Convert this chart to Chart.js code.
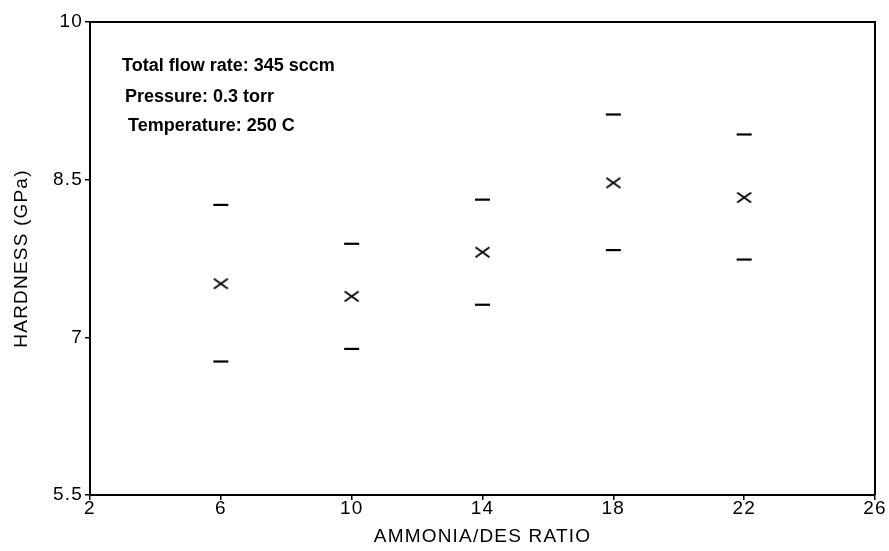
<!DOCTYPE html>
<html><head><meta charset="utf-8">
<script src="https://cdn.jsdelivr.net/npm/chart.js@4/dist/chart.umd.min.js"></script>
<style>html,body{margin:0;padding:0;background:#fff}</style>
</head><body>
<canvas id="c" width="889" height="551" style="display:block;width:889px;height:551px"></canvas>
<script>
const ratios = [6, 10, 14, 18, 22];
const hardnessMean = [7.51, 7.39, 7.81, 8.47, 8.33];
const hardnessUpper = [8.26, 7.89, 8.31, 9.12, 8.93];
const hardnessLower = [6.77, 6.89, 7.31, 7.83, 7.74];
const xTicks = [2, 6, 10, 14, 18, 22, 26];
const yTicks = [5.5, 7, 8.5, 10];
const notes = ['Total flow rate: 345 sccm', 'Pressure: 0.3 torr', 'Temperature: 250 C'];
const xTitle = 'AMMONIA/DES RATIO';
const yTitle = 'HARDNESS (GPa)';

const FONT = '"Liberation Sans", Arial, Helvetica, sans-serif';

function makeCross() {
  const c = document.createElement('canvas');
  c.width = 17; c.height = 13;
  const g = c.getContext('2d');
  g.strokeStyle = '#000'; g.lineWidth = 1.8;
  g.beginPath();
  g.moveTo(1.5, 1.5); g.lineTo(15.5, 11.5);
  g.moveTo(1.5, 11.5); g.lineTo(15.5, 1.5);
  g.stroke();
  return c;
}
const cross = makeCross();

const toPts = (ys) => ratios.map((x, i) => ({x: x, y: ys[i]}));

const framePlugin = {
  id: 'frame',
  beforeDraw(chart) { chart.ctx.letterSpacing = '1.2px'; },
  afterDraw(chart) {
    const ctx = chart.ctx, a = chart.chartArea;
    ctx.save();
    ctx.letterSpacing = '0px';
    ctx.strokeStyle = '#000'; ctx.lineWidth = 2;
    ctx.beginPath();
    ctx.moveTo(a.left, a.top); ctx.lineTo(a.right, a.top); ctx.lineTo(a.right, a.bottom);
    ctx.stroke();
    ctx.font = 'bold 18px ' + FONT;
    ctx.fillStyle = '#000';
    ctx.textBaseline = 'alphabetic';
    const dx = [32, 35, 38], dy = [49, 79.5, 109];
    notes.forEach((t, i) => ctx.fillText(t, a.left + dx[i], a.top + dy[i]));
    ctx.restore();
  }
};

new Chart(document.getElementById('c'), {
  type: 'scatter',
  data: {
    datasets: [
      { data: toPts(hardnessMean), pointStyle: cross, pointRadius: 8, borderColor: '#000', backgroundColor: '#000' },
      { data: toPts(hardnessUpper), pointStyle: 'line', pointRadius: 7.5, pointBorderWidth: 2.2, borderColor: '#000', backgroundColor: '#000' },
      { data: toPts(hardnessLower), pointStyle: 'line', pointRadius: 7.5, pointBorderWidth: 2.2, borderColor: '#000', backgroundColor: '#000' }
    ]
  },
  options: {
    responsive: false,
    animation: false,
    events: [],
    layout: { padding: { left: 0, right: 14, top: 22, bottom: 0 } },
    plugins: { legend: { display: false }, tooltip: { enabled: false } },
    scales: {
      x: {
        type: 'linear', min: xTicks[0], max: xTicks[xTicks.length - 1],
        afterBuildTicks: (s) => { s.ticks = xTicks.map(v => ({value: v})); },
        afterFit: (s) => { s.height = 56; },
        grid: { display: true, drawOnChartArea: false, drawTicks: true, tickLength: 5, color: '#000', lineWidth: 1.5 },
        border: { display: true, color: '#000', width: 2 },
        ticks: { color: '#000', font: { family: FONT, size: 19 }, padding: -3, maxRotation: 0, callback: (v) => String(v) },
        title: { display: true, text: xTitle, color: '#000', font: { family: FONT, size: 19 }, padding: { top: 0, bottom: 3 } }
      },
      y: {
        type: 'linear', min: yTicks[0], max: yTicks[yTicks.length - 1],
        afterBuildTicks: (s) => { s.ticks = yTicks.map(v => ({value: v})); },
        afterFit: (s) => { s.width = 90; },
        grid: { display: true, drawOnChartArea: false, drawTicks: true, tickLength: 5, color: '#000', lineWidth: 1.5 },
        border: { display: true, color: '#000', width: 2 },
        ticks: { color: '#000', font: { family: FONT, size: 19 }, padding: 2, callback: (v) => String(v) },
        title: { display: true, text: yTitle, color: '#000', font: { family: FONT, size: 19 }, padding: { top: 10, bottom: 0 } }
      }
    }
  },
  plugins: [framePlugin]
});
</script>
</body></html>
